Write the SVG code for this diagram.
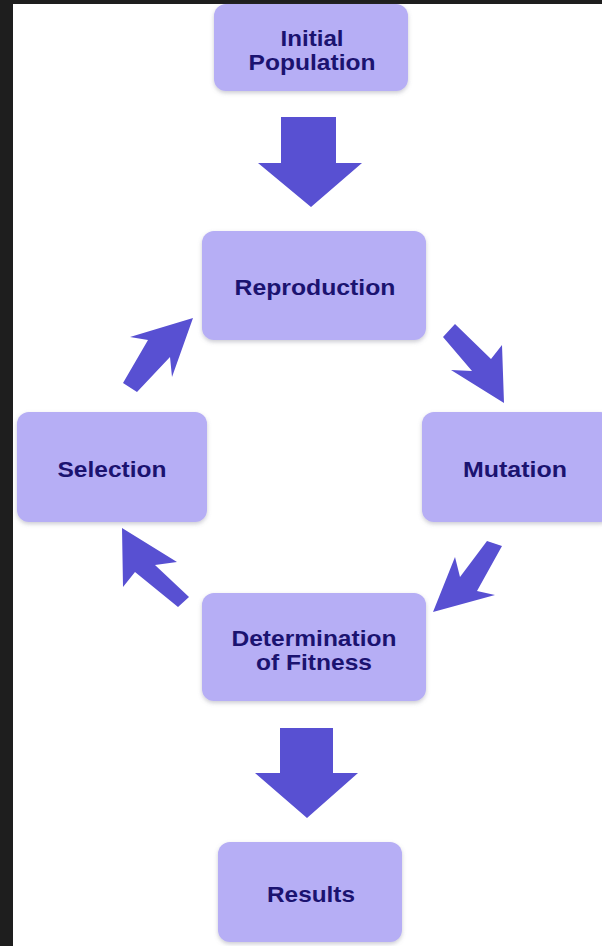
<svg xmlns="http://www.w3.org/2000/svg" width="602" height="946" viewBox="0 0 602 946">
  <defs>
    <filter id="shadow" x="-10%" y="-10%" width="120%" height="130%">
      <feDropShadow dx="0" dy="2" stdDeviation="2" flood-color="#6b6b80" flood-opacity="0.35"/>
    </filter>
    <style>
      .box { fill: #b6aef5; filter: url(#shadow); }
      .arrow { fill: #5850d2; }
      .label { font-family: "Liberation Sans", Arial, sans-serif; font-weight: bold; font-size: 22px; fill: #1b1370; text-anchor: middle; }
    </style>
  </defs>

  <!-- page background and dark frame -->
  <rect x="0" y="0" width="602" height="946" fill="#ffffff"/>
  <rect x="0" y="0" width="602" height="4" fill="#1e1e1e"/>
  <rect x="0" y="0" width="13" height="946" fill="#1e1e1e"/>

  <!-- connectors -->
  <g id="connectors">
    <polygon class="arrow" points="281,117 336,117 336,163 362,163 311,207 258,163 281,163"/>
    <polygon class="arrow" points="455,324 491,359 502,345 504,403 451,370 472,371 443,337"/>
    <polygon class="arrow" points="502,546 477,591 495,595 433,612 455,557 460,577 487,541"/>
    <polygon class="arrow" points="122,528 177,562 155,565 189,597 178,607 135,572 123,587"/>
    <polygon class="arrow" points="193,318 130,337 148,340 123,383 137,392 170,357 172,377"/>
    <polygon class="arrow" points="280,728 333,728 333,773 358,773 307,818 255,773 280,773"/>
  </g>

  <g id="initial-population">
    <rect class="box" x="214" y="4" width="194" height="87" rx="12"/>
    <text class="label" x="312" y="46" textLength="63" lengthAdjust="spacingAndGlyphs">Initial</text>
    <text class="label" x="312" y="70" textLength="127" lengthAdjust="spacingAndGlyphs">Population</text>
  </g>

  <g id="reproduction">
    <rect class="box" x="202" y="231" width="224" height="109" rx="12"/>
    <text class="label" x="315" y="295" textLength="161" lengthAdjust="spacingAndGlyphs">Reproduction</text>
  </g>

  <g id="mutation">
    <rect class="box" x="422" y="412" width="190" height="110" rx="12"/>
    <text class="label" x="515" y="477" textLength="104" lengthAdjust="spacingAndGlyphs">Mutation</text>
  </g>

  <g id="selection">
    <rect class="box" x="17" y="412" width="190" height="110" rx="12"/>
    <text class="label" x="112" y="477" textLength="109" lengthAdjust="spacingAndGlyphs">Selection</text>
  </g>

  <g id="determination-of-fitness">
    <rect class="box" x="202" y="593" width="224" height="108" rx="12"/>
    <text class="label" x="314" y="646" textLength="165" lengthAdjust="spacingAndGlyphs">Determination</text>
    <text class="label" x="314" y="670" textLength="116" lengthAdjust="spacingAndGlyphs">of Fitness</text>
  </g>

  <g id="results">
    <rect class="box" x="218" y="842" width="184" height="100" rx="12"/>
    <text class="label" x="311" y="902" textLength="88" lengthAdjust="spacingAndGlyphs">Results</text>
  </g>
</svg>
